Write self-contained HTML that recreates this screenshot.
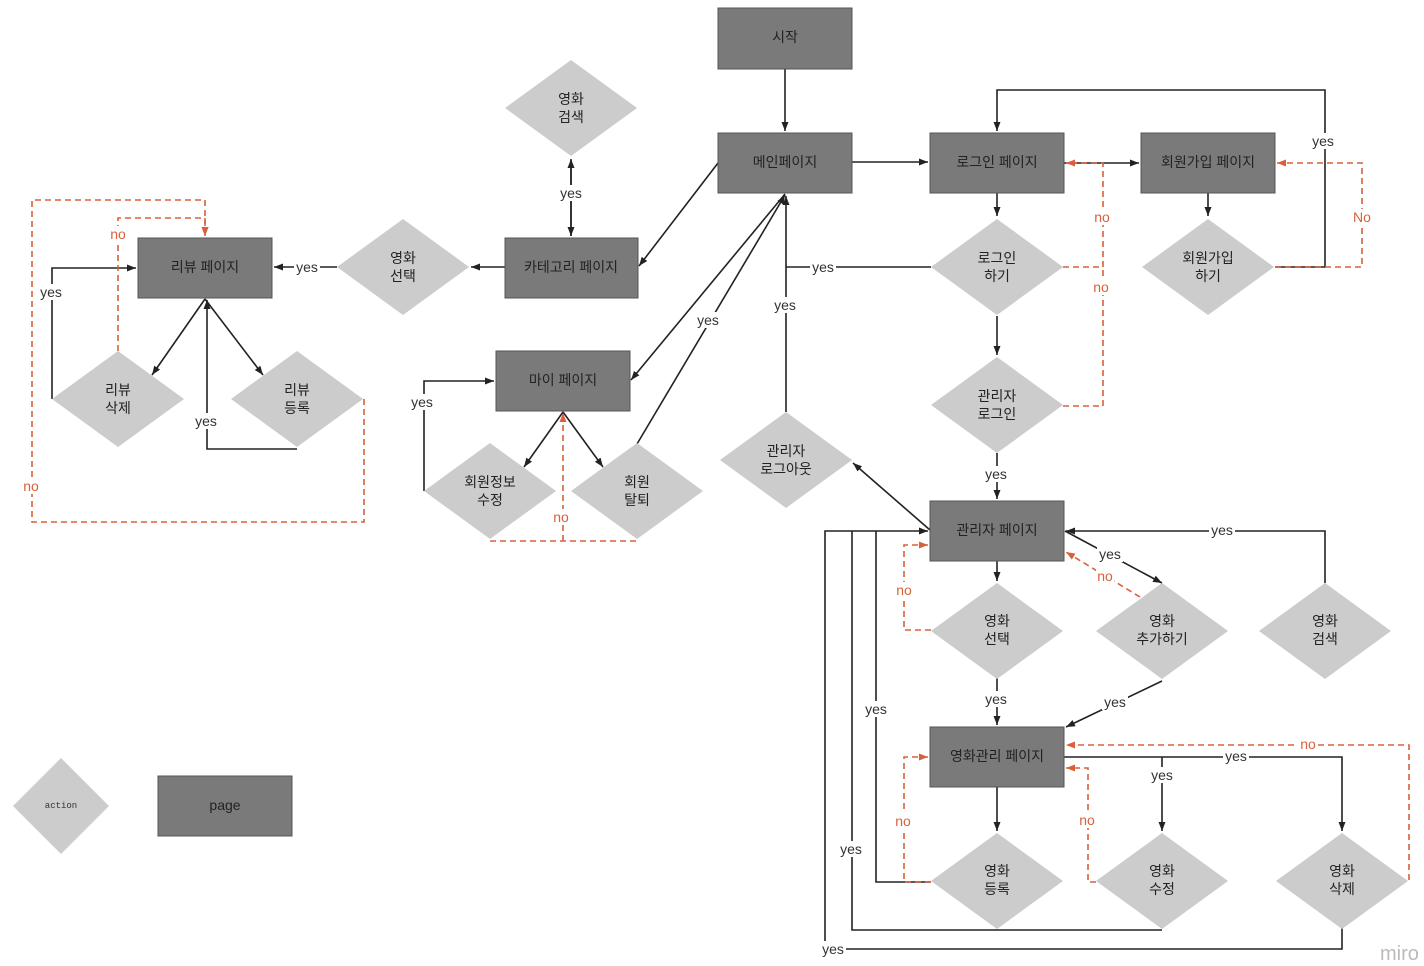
<!DOCTYPE html>
<html><head><meta charset="utf-8"><style>
html,body{margin:0;padding:0;background:#fff;}
svg{display:block;font-family:"Liberation Sans","Noto Sans CJK KR",sans-serif;}
.r{fill:#7a7a7a;stroke:#555;stroke-width:1}
.d{fill:#cccccc}
.t{font-size:14px;fill:#222;text-anchor:middle}
.l{stroke:#222;stroke-width:1.6;fill:none}
.n{stroke:#d9603b;stroke-width:1.6;fill:none;stroke-dasharray:6,4}
.y{font-size:14px;fill:#333;text-anchor:middle}
.o{font-size:14px;fill:#d9603b;text-anchor:middle}
</style></head><body>
<svg width="1424" height="966" viewBox="0 0 1424 966">
<defs>
<marker id="a" markerWidth="10" markerHeight="10" refX="9" refY="5" orient="auto" markerUnits="userSpaceOnUse"><path d="M0,1.5 L9,5 L0,8.5z" fill="#222"/></marker>
<marker id="b" markerWidth="10" markerHeight="10" refX="9" refY="5" orient="auto" markerUnits="userSpaceOnUse"><path d="M0,1.5 L9,5 L0,8.5z" fill="#d9603b"/></marker>
</defs>

<!-- connectors black -->
<g class="l">
<path d="M785,69V131" marker-end="url(#a)"/>
<path d="M852,162H928" marker-end="url(#a)"/>
<path d="M718,163L639,266" marker-end="url(#a)"/>
<path d="M785,194L631,380" marker-end="url(#a)"/>
<path d="M637,444L785,195" marker-end="url(#a)"/>
<path d="M571,236V159" marker-end="url(#a)"/>
<path d="M571,160V236" marker-end="url(#a)"/>
<path d="M505,267H471" marker-end="url(#a)"/>
<path d="M337,267H274" marker-end="url(#a)"/>
<path d="M205,299L152,375" marker-end="url(#a)"/>
<path d="M205,299L263,375" marker-end="url(#a)"/>
<path d="M297,449H207V300" marker-end="url(#a)"/>
<path d="M52,399V268H136" marker-end="url(#a)"/>
<path d="M424,491V381H494" marker-end="url(#a)"/>
<path d="M563,412L524,467" marker-end="url(#a)"/>
<path d="M563,412L603,467" marker-end="url(#a)"/>
<path d="M997,193V216" marker-end="url(#a)"/>
<path d="M931,267H786"/>
<path d="M786,412V196" marker-end="url(#a)"/>
<path d="M997,316V355" marker-end="url(#a)"/>
<path d="M997,453V499" marker-end="url(#a)"/>
<path d="M930,530L853,463" marker-end="url(#a)"/>
<path d="M1064,163H1139" marker-end="url(#a)"/>
<path d="M1208,193V216" marker-end="url(#a)"/>
<path d="M1275,267H1325V90H997V131" marker-end="url(#a)"/>
<path d="M997,561V581" marker-end="url(#a)"/>
<path d="M1065,531L1162,583" marker-end="url(#a)"/>
<path d="M1325,583V531H1066" marker-end="url(#a)"/>
<path d="M997,678V725" marker-end="url(#a)"/>
<path d="M1162,681L1066,727" marker-end="url(#a)"/>
<path d="M997,787V831" marker-end="url(#a)"/>
<path d="M1064,757H1342V831" marker-end="url(#a)"/>
<path d="M1162,757V831" marker-end="url(#a)"/>
<path d="M931,882H876V531"/>
<path d="M1162,930H852V531"/>
<path d="M1342,928V949H825V531H928" marker-end="url(#a)"/>
</g>
<!-- red dashed -->
<g class="n">
<path d="M118,351V218H205V236" marker-end="url(#b)"/>
<path d="M364,399V522H32V200H205V236" marker-end="url(#b)"/>
<path d="M490,541H637"/>
<path d="M563,541V413" marker-end="url(#b)"/>
<path d="M1063,267H1103V163H1066" marker-end="url(#b)"/>
<path d="M1063,406H1103V267"/>
<path d="M1275,267H1362V163H1277" marker-end="url(#b)"/>
<path d="M1140,597L1066,552" marker-end="url(#b)"/>
<path d="M931,630H904V545H928" marker-end="url(#b)"/>
<path d="M1409,880V745H1066" marker-end="url(#b)"/>
<path d="M1096,882H1088V768H1066" marker-end="url(#b)"/>
<path d="M931,882H904V757H928" marker-end="url(#b)"/>
</g>

<!-- rects -->
<rect class="r" x="718" y="8" width="134" height="61"/><text class="t" x="785" y="42">시작</text>
<rect class="r" x="718" y="133" width="134" height="60"/><text class="t" x="785" y="167">메인페이지</text>
<rect class="r" x="930" y="133" width="134" height="60"/><text class="t" x="997" y="167">로그인 페이지</text>
<rect class="r" x="1141" y="133" width="134" height="60"/><text class="t" x="1208" y="167">회원가입 페이지</text>
<rect class="r" x="505" y="238" width="133" height="60"/><text class="t" x="571" y="272">카테고리 페이지</text>
<rect class="r" x="138" y="238" width="134" height="60"/><text class="t" x="205" y="272">리뷰 페이지</text>
<rect class="r" x="496" y="351" width="134" height="60"/><text class="t" x="563" y="385">마이 페이지</text>
<rect class="r" x="930" y="501" width="134" height="60"/><text class="t" x="997" y="535">관리자 페이지</text>
<rect class="r" x="930" y="727" width="134" height="60"/><text class="t" x="997" y="761">영화관리 페이지</text>
<rect class="r" x="158" y="776" width="134" height="60"/><text class="t" x="225" y="810">page</text>

<!-- diamonds -->
<g>
<path class="d" d="M571,60L637,108L571,156L505,108z"/><text class="t" x="571" y="104">영화</text><text class="t" x="571" y="122">검색</text>
<path class="d" d="M403,219L469,267L403,315L337,267z"/><text class="t" x="403" y="263">영화</text><text class="t" x="403" y="281">선택</text>
<path class="d" d="M997,219L1063,267L997,315L931,267z"/><text class="t" x="997" y="263">로그인</text><text class="t" x="997" y="281">하기</text>
<path class="d" d="M1208,219L1274,267L1208,315L1142,267z"/><text class="t" x="1208" y="263">회원가입</text><text class="t" x="1208" y="281">하기</text>
<path class="d" d="M997,357L1063,405L997,453L931,405z"/><text class="t" x="997" y="401">관리자</text><text class="t" x="997" y="419">로그인</text>
<path class="d" d="M786,412L852,460L786,508L720,460z"/><text class="t" x="786" y="456">관리자</text><text class="t" x="786" y="474">로그아웃</text>
<path class="d" d="M118,351L184,399L118,447L52,399z"/><text class="t" x="118" y="395">리뷰</text><text class="t" x="118" y="413">삭제</text>
<path class="d" d="M297,351L363,399L297,447L231,399z"/><text class="t" x="297" y="395">리뷰</text><text class="t" x="297" y="413">등록</text>
<path class="d" d="M490,443L556,491L490,539L424,491z"/><text class="t" x="490" y="487">회원정보</text><text class="t" x="490" y="505">수정</text>
<path class="d" d="M637,443L703,491L637,539L571,491z"/><text class="t" x="637" y="487">회원</text><text class="t" x="637" y="505">탈퇴</text>
<path class="d" d="M997,583L1063,631L997,679L931,631z"/><text class="t" x="997" y="626">영화</text><text class="t" x="997" y="644">선택</text>
<path class="d" d="M1162,583L1228,631L1162,679L1096,631z"/><text class="t" x="1162" y="626">영화</text><text class="t" x="1162" y="644">추가하기</text>
<path class="d" d="M1325,583L1391,631L1325,679L1259,631z"/><text class="t" x="1325" y="626">영화</text><text class="t" x="1325" y="644">검색</text>
<path class="d" d="M997,833L1063,881L997,929L931,881z"/><text class="t" x="997" y="876">영화</text><text class="t" x="997" y="894">등록</text>
<path class="d" d="M1162,833L1228,881L1162,929L1096,881z"/><text class="t" x="1162" y="876">영화</text><text class="t" x="1162" y="894">수정</text>
<path class="d" d="M1342,833L1408,881L1342,929L1276,881z"/><text class="t" x="1342" y="876">영화</text><text class="t" x="1342" y="894">삭제</text>
<path class="d" d="M61,758L109,806L61,854L13,806z"/><text x="61" y="808" text-anchor="middle" font-size="9" fill="#333" font-family="Liberation Mono,monospace">action</text>
</g>

<!-- labels -->
<g>
<g fill="#fff">
<rect x="559" y="185" width="24" height="16"/><rect x="294" y="259" width="26" height="16"/>
<rect x="38" y="284" width="26" height="16"/><rect x="193" y="413" width="26" height="16"/>
<rect x="409" y="394" width="26" height="16"/><rect x="695" y="312" width="26" height="16"/>
<rect x="772" y="297" width="26" height="16"/><rect x="810" y="259" width="26" height="16"/>
<rect x="983" y="466" width="26" height="16"/><rect x="1310" y="133" width="26" height="16"/>
<rect x="1097" y="546" width="26" height="16"/><rect x="1209" y="522" width="26" height="16"/>
<rect x="983" y="691" width="26" height="16"/><rect x="1102" y="694" width="26" height="16"/>
<rect x="1149" y="767" width="26" height="16"/><rect x="1223" y="748" width="26" height="16"/>
<rect x="863" y="701" width="26" height="16"/><rect x="838" y="841" width="26" height="16"/>
<rect x="820" y="941" width="26" height="16"/>
<rect x="1095" y="209" width="16" height="16"/><rect x="1093" y="279" width="16" height="16"/>
<rect x="1350" y="209" width="24" height="16"/><rect x="1096" y="568" width="18" height="16"/>
<rect x="895" y="582" width="18" height="16"/><rect x="1298" y="736" width="20" height="16"/>
<rect x="1078" y="812" width="18" height="16"/><rect x="894" y="813" width="18" height="16"/>
<rect x="109" y="226" width="18" height="16"/><rect x="22" y="478" width="18" height="16"/>
<rect x="552" y="509" width="18" height="16"/>
</g>
<text class="y" x="571" y="198">yes</text><text class="y" x="307" y="272">yes</text>
<text class="y" x="51" y="297">yes</text><text class="y" x="206" y="426">yes</text>
<text class="y" x="422" y="407">yes</text><text class="y" x="708" y="325">yes</text>
<text class="y" x="785" y="310">yes</text><text class="y" x="823" y="272">yes</text>
<text class="y" x="996" y="479">yes</text><text class="y" x="1323" y="146">yes</text>
<text class="y" x="1110" y="559">yes</text><text class="y" x="1222" y="535">yes</text>
<text class="y" x="996" y="704">yes</text><text class="y" x="1115" y="707">yes</text>
<text class="y" x="1162" y="780">yes</text><text class="y" x="1236" y="761">yes</text>
<text class="y" x="876" y="714">yes</text><text class="y" x="851" y="854">yes</text>
<text class="y" x="833" y="954">yes</text>
<text class="o" x="1102" y="222">no</text><text class="o" x="1101" y="292">no</text>
<text class="o" x="1362" y="222">No</text><text class="o" x="1105" y="581">no</text>
<text class="o" x="904" y="595">no</text><text class="o" x="1308" y="749">no</text>
<text class="o" x="1087" y="825">no</text><text class="o" x="903" y="826">no</text>
<text class="o" x="118" y="239">no</text><text class="o" x="31" y="491">no</text>
<text class="o" x="561" y="522">no</text>
</g>
<text x="1380" y="960" font-size="20" fill="#bbb">miro</text>
</svg>
</body></html>
